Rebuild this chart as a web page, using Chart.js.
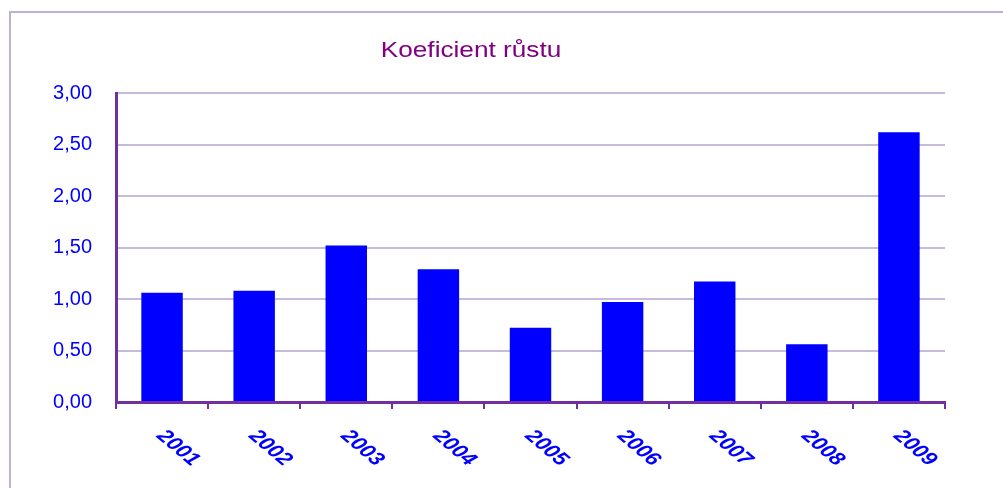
<!DOCTYPE html>
<html lang="cs">
<head>
<meta charset="UTF-8">
<title>Koeficient růstu</title>
<script src="https://cdn.jsdelivr.net/npm/chart.js"></script>
<style>
  html, body { margin: 0; padding: 0; background: #fff; }
  #wrap { position: relative; width: 1003px; height: 488px; }
</style>
</head>
<body>
<div id="wrap"><canvas id="chart"></canvas></div>
<script>
// data
const years = ['2001', '2002', '2003', '2004', '2005', '2006', '2007', '2008', '2009'];
const growth = [1.06, 1.08, 1.52, 1.29, 0.72, 0.97, 1.17, 0.56, 2.62];
const chartTitle = 'Koeficient růstu';

const purple = '#7030a0';
const blue = '#0000ff';

Chart.defaults.font.family = '"Liberation Sans", Arial, sans-serif';

// frame + title, drawn slightly wide like the original
const decorPlugin = {
  id: 'decor',
  beforeDraw(chart) {
    const ctx = chart.ctx;
    ctx.save();
    ctx.strokeStyle = '#bfb0d6';
    ctx.lineWidth = 2;
    ctx.strokeRect(10, 12, 1010, 500);
    ctx.fillStyle = '#800080';
    ctx.font = '22px "Liberation Sans", Arial, sans-serif';
    ctx.textAlign = 'center';
    ctx.textBaseline = 'alphabetic';
    ctx.translate(471, 57);
    ctx.scale(1.19, 1);
    ctx.fillText(chartTitle, 0, 0);
    ctx.restore();
  }
};

// x labels rotated clockwise (chart.js only rotates the other way)
const xLabelPlugin = {
  id: 'xlabels',
  afterDraw(chart) {
    const ctx = chart.ctx;
    const xs = chart.scales.x;
    ctx.save();
    ctx.fillStyle = blue;
    ctx.font = 'italic bold 19px "Liberation Sans", Arial, sans-serif';
    ctx.textAlign = 'center';
    ctx.textBaseline = 'middle';
    chart.data.labels.forEach((lbl, i) => {
      const x = xs.getPixelForValue(i);
      ctx.save();
      ctx.translate(x + 16, xs.top + 46);
      ctx.scale(1.19, 1);
      ctx.rotate(Math.PI / 4);
      ctx.fillText(lbl, 0, 0);
      ctx.restore();
    });
    ctx.restore();
  }
};

new Chart(document.getElementById('chart'), {
  type: 'bar',
  data: {
    labels: years,
    datasets: [{
      label: chartTitle,
      data: growth,
      backgroundColor: blue,
      borderWidth: 0,
      barPercentage: 0.45,
      categoryPercentage: 1
    }]
  },
  options: {
    responsive: true,
    maintainAspectRatio: false,
    animation: false,
    layout: { padding: { left: 0, right: 58, top: 93, bottom: 0 } },
    plugins: {
      legend: { display: false },
      title: { display: false },
      tooltip: { enabled: false }
    },
    scales: {
      x: {
        afterFit(scale) { scale.height = 86; },
        grid: {
          drawOnChartArea: false,
          drawTicks: true,
          tickLength: 7,
          color: purple,
          lineWidth: 2
        },
        border: { display: true, color: purple, width: 3 },
        ticks: { color: 'rgba(0,0,0,0)', maxRotation: 0, autoSkip: false }
      },
      y: {
        min: 0,
        max: 3,
        afterFit(scale) { scale.width = 116; },
        grid: { color: '#c6bbdb', lineWidth: 2, drawTicks: false },
        border: { display: true, color: purple, width: 3 },
        ticks: {
          stepSize: 0.5,
          padding: 24,
          color: blue,
          font: { size: 20 },
          callback: v => v.toFixed(2).replace('.', ',')
        }
      }
    }
  },
  plugins: [decorPlugin, xLabelPlugin]
});
</script>
</body>
</html>
